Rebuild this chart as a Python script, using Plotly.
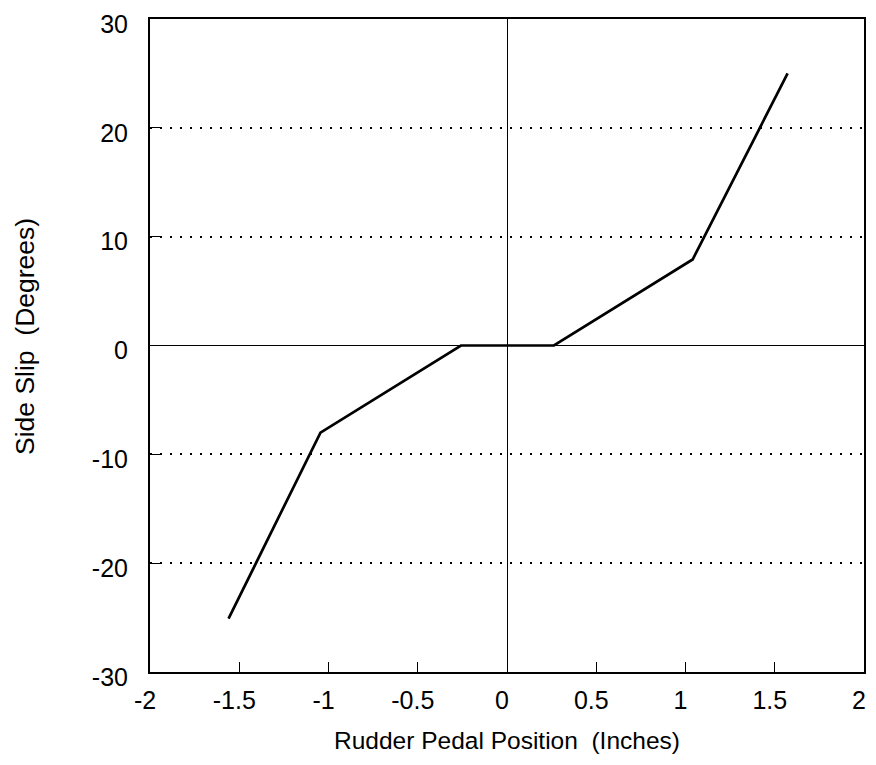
import plotly.graph_objects as go

pedal_position = [-1.56, -1.045, -0.258, 0.0, 0.263, 1.04, 1.572]
side_slip = [-25.1, -8.0, 0.0, 0.0, 0.0, 7.9, 25.0]

x_tick_vals = [-2, -1.5, -1, -0.5, 0, 0.5, 1, 1.5, 2]
x_tick_text = ["-2", "-1.5", "-1", "-0.5", "0", "0.5", "1", "1.5", "2"]
y_tick_vals = [-30, -20, -10, 0, 10, 20, 30]
y_tick_text = ["-30", "-20", "-10", "0", "10", "20", "30"]

fig = go.Figure()
fig.add_trace(go.Scatter(x=pedal_position, y=side_slip, mode="lines",
                         line=dict(color="black", width=2.7), showlegend=False))

font = dict(family="Liberation Sans, Arial, sans-serif", color="black")

fig.update_layout(
    width=860, height=749,
    margin=dict(l=142, r=2, t=9, b=85),
    plot_bgcolor="white", paper_bgcolor="white",
    font=font,
    xaxis=dict(range=[-2, 2], tickvals=x_tick_vals, ticktext=x_tick_text,
               ticks="inside", ticklen=10, tickcolor="black", tickwidth=1,
               showgrid=False, zeroline=True, zerolinecolor="black", zerolinewidth=1.2,
               showline=True, linecolor="black", linewidth=2, mirror=True,
               tickfont=dict(size=25), ticklabelstandoff=5, ticklabelshift=-5,
               ticklabeloverflow="allow",
               title=dict(text="Rudder Pedal Position\u00a0\u00a0(Inches)", font=dict(size=24.5), standoff=19)),
    yaxis=dict(range=[-30, 30], tickvals=y_tick_vals, ticktext=y_tick_text,
               ticks="inside", ticklen=10, tickcolor="black", tickwidth=1,
               showgrid=True, gridcolor="black", gridwidth=2, griddash="2px,8px",
               zeroline=True, zerolinecolor="black", zerolinewidth=1.2,
               showline=True, linecolor="black", linewidth=2, mirror=True,
               tickfont=dict(size=25), ticklabelstandoff=15, ticklabelshift=5,
               ticklabeloverflow="allow"),
    annotations=[dict(text="Side Slip\u00a0\u00a0(Degrees)", textangle=-90,
                      xref="paper", x=0, xanchor="center", xshift=-125,
                      yref="y", y=0.78, yanchor="middle", showarrow=False,
                      font=dict(size=26.5))],
)

fig.write_html("out.html")
